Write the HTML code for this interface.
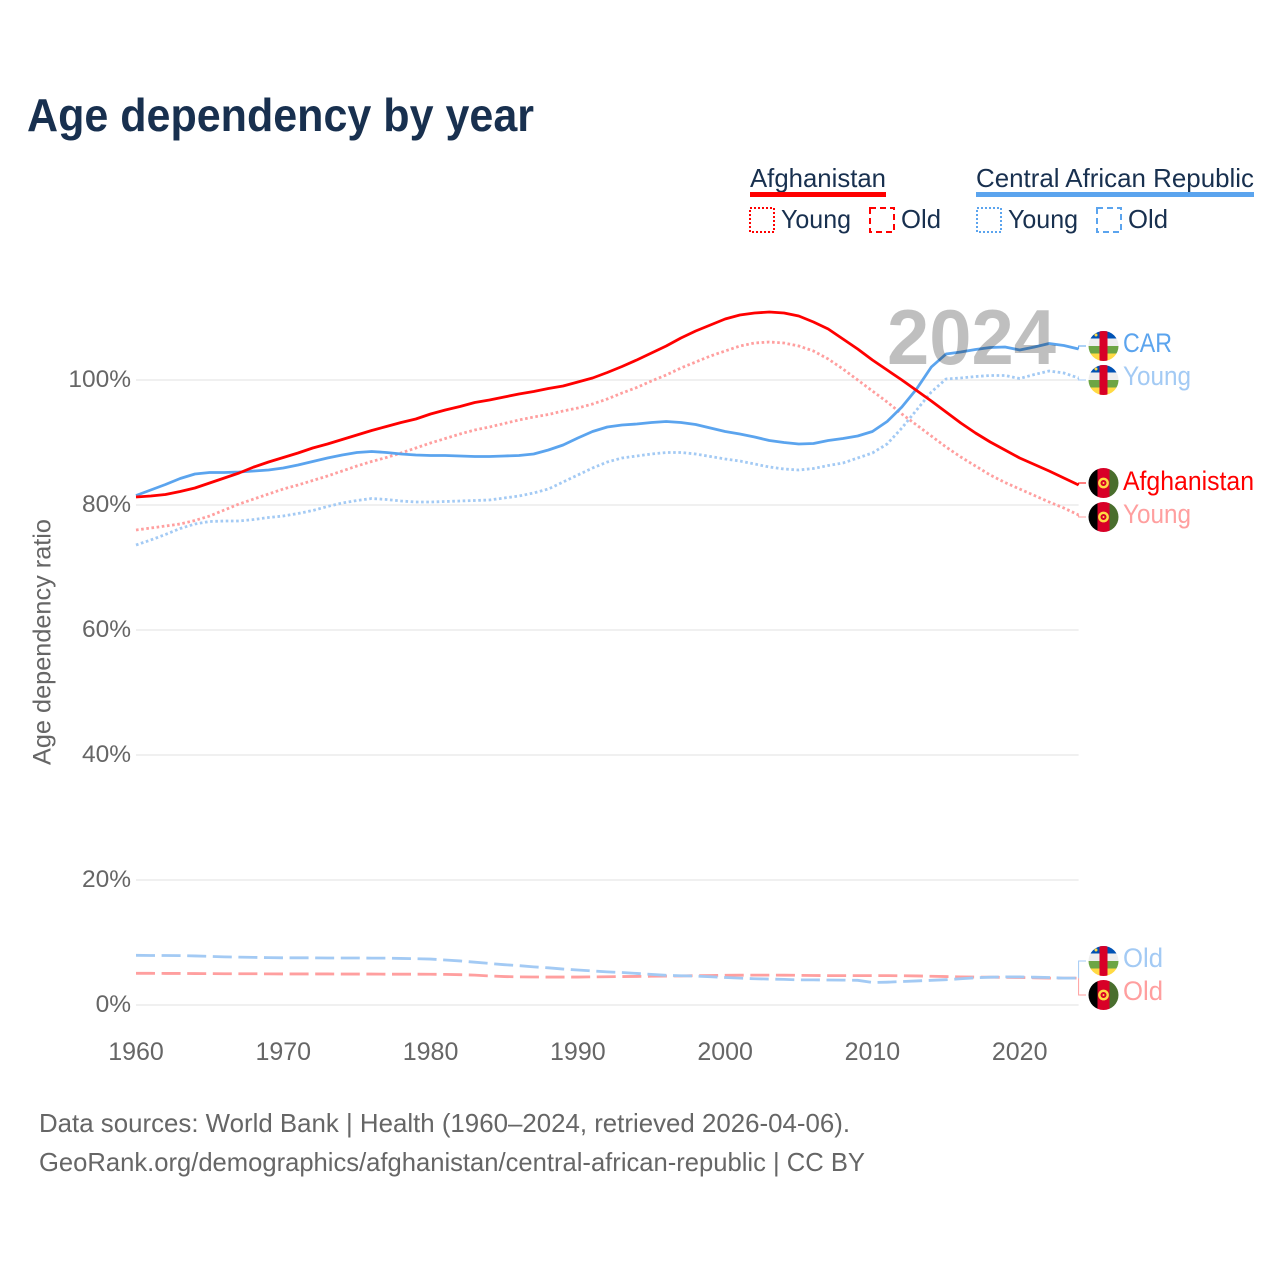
<!DOCTYPE html>
<html lang="en">
<head>
<meta charset="utf-8">
<title>Age dependency by year</title>
<style>
html,body{margin:0;padding:0;background:#fff}
svg{display:block}
text{font-family:"Liberation Sans",sans-serif}
</style>
</head>
<body>
<svg id="chart" xmlns="http://www.w3.org/2000/svg" width="1280" height="1280" viewBox="0 0 1280 1280">
<defs>
<clipPath id="flag-clip"><circle cx="0" cy="0" r="15"/></clipPath>
<g id="flag-car" clip-path="url(#flag-clip)">
<rect x="-15" y="-15" width="30" height="7.5" fill="#0052b4"/>
<rect x="-15" y="-7.5" width="30" height="7.5" fill="#eeeeee"/>
<rect x="-15" y="0" width="30" height="7.5" fill="#6da544"/>
<rect x="-15" y="7.5" width="30" height="7.5" fill="#ffda44"/>
<rect x="-4" y="-15" width="8" height="30" fill="#d80027"/>
<circle cx="-7.5" cy="-11" r="1.5" fill="#ffda44"/>
</g>
<g id="flag-afg" clip-path="url(#flag-clip)">
<rect x="-15" y="-15" width="9" height="30" fill="#000000"/>
<rect x="-6" y="-15" width="12" height="30" fill="#d80027"/>
<rect x="6" y="-15" width="9" height="30" fill="#496e2d"/>
<circle cx="0" cy="0" r="4.2" fill="none" stroke="#ffda44" stroke-width="2.4"/>
<circle cx="0" cy="0" r="1" fill="#ffda44"/>
</g>
</defs>
<rect x="0" y="0" width="1280" height="1280" fill="#ffffff"/>
<text x="27" y="131" font-size="46" font-weight="700" fill="#18304f" textLength="507" lengthAdjust="spacingAndGlyphs">Age dependency by year</text>

<g fill="#18304f" font-size="26">
<text x="750" y="187" textLength="136" lengthAdjust="spacingAndGlyphs">Afghanistan</text>
<rect x="750" y="192" width="136" height="5" fill="#ff0000"/>
<rect x="750" y="208" width="24" height="24" fill="none" stroke="#ff0000" stroke-width="2" stroke-dasharray="2 2"/>
<text x="781" y="228" textLength="70" lengthAdjust="spacingAndGlyphs">Young</text>
<rect x="870" y="208" width="24" height="24" fill="none" stroke="#ff0000" stroke-width="2" stroke-dasharray="6 4"/>
<text x="901" y="228" textLength="40" lengthAdjust="spacingAndGlyphs">Old</text>
<text x="976" y="187" textLength="278" lengthAdjust="spacingAndGlyphs">Central African Republic</text>
<rect x="976" y="192" width="278" height="5" fill="#5ba4ee"/>
<rect x="977" y="208" width="24" height="24" fill="none" stroke="#5ba4ee" stroke-width="2" stroke-dasharray="2 2"/>
<text x="1008" y="228" textLength="70" lengthAdjust="spacingAndGlyphs">Young</text>
<rect x="1097" y="208" width="24" height="24" fill="none" stroke="#5ba4ee" stroke-width="2" stroke-dasharray="6 4"/>
<text x="1128" y="228" textLength="40" lengthAdjust="spacingAndGlyphs">Old</text>
</g>

<g id="grid"></g>
<g id="yticks"></g>
<g id="xticks"></g>
<text transform="translate(50.5 642) rotate(-90)" text-anchor="middle" font-size="25" fill="#666666" textLength="246" lengthAdjust="spacingAndGlyphs">Age dependency ratio</text>
<g id="series"></g>
<text x="887" y="364" font-size="78" font-weight="700" fill="#000000" fill-opacity="0.25" textLength="169" lengthAdjust="spacingAndGlyphs">2024</text>

<g font-size="27">
<use href="#flag-car" x="1103.5" y="346"/>
<text x="1123" y="352" fill="#5ba4ee" textLength="49" lengthAdjust="spacingAndGlyphs">CAR</text>
<use href="#flag-car" x="1103.5" y="380"/>
<text x="1123" y="385" fill="#a3caf4" textLength="68" lengthAdjust="spacingAndGlyphs">Young</text>
<use href="#flag-afg" x="1103.5" y="483"/>
<text x="1123" y="490" fill="#ff0000" textLength="131" lengthAdjust="spacingAndGlyphs">Afghanistan</text>
<use href="#flag-afg" x="1103.5" y="517"/>
<text x="1123" y="523" fill="#ff9f9f" textLength="68" lengthAdjust="spacingAndGlyphs">Young</text>
<use href="#flag-car" x="1103.5" y="961"/>
<text x="1123" y="967" fill="#a3caf4" textLength="40" lengthAdjust="spacingAndGlyphs">Old</text>
<use href="#flag-afg" x="1103.5" y="995"/>
<text x="1123" y="1000" fill="#ff9f9f" textLength="40" lengthAdjust="spacingAndGlyphs">Old</text>
</g>

<g font-size="26" fill="#666666">
<text x="39" y="1132" textLength="811" lengthAdjust="spacingAndGlyphs">Data sources: World Bank | Health (1960–2024, retrieved 2026-04-06).</text>
<text x="39" y="1171" textLength="826" lengthAdjust="spacingAndGlyphs">GeoRank.org/demographics/afghanistan/central-african-republic | CC BY</text>
</g>
</svg>
<script>
var startYear = 1960;
var endYear = 2024;
var xTickYears = [1960, 1970, 1980, 1990, 2000, 2010, 2020];
var yTickValues = [0, 20, 40, 60, 80, 100];
var afghanistanTotal = [81.28,81.44,81.68,82.16,82.72,83.52,84.32,85.12,86.08,86.88,87.6,88.32,89.12,89.76,90.48,91.2,91.92,92.56,93.2,93.76,94.56,95.2,95.76,96.4,96.8,97.28,97.76,98.16,98.64,99.04,99.68,100.32,101.2,102.16,103.2,104.32,105.44,106.72,107.84,108.8,109.76,110.4,110.72,110.88,110.72,110.24,109.28,108.16,106.56,104.96,103.2,101.6,100,98.32,96.64,94.88,93.12,91.52,90.08,88.8,87.52,86.48,85.44,84.32,83.2];
var afghanistanYoung = [76,76.32,76.64,76.96,77.52,78.24,79.2,80.16,80.96,81.76,82.56,83.2,83.92,84.64,85.44,86.24,86.96,87.6,88.32,89.12,89.92,90.64,91.36,92,92.48,93.04,93.6,94.08,94.48,95.04,95.52,96.16,96.96,97.92,98.8,99.84,100.8,101.92,102.88,103.84,104.64,105.44,105.92,106.08,105.92,105.44,104.64,103.36,101.76,100,98.24,96.48,94.56,92.8,91.04,89.28,87.68,86.24,84.8,83.6,82.56,81.52,80.48,79.52,78.4];
var afghanistanOld = [5.07,5.07,5.05,5.05,5.03,5.02,5,5,5,4.98,4.97,4.97,4.97,4.97,4.95,4.95,4.95,4.93,4.93,4.93,4.92,4.9,4.85,4.78,4.65,4.55,4.5,4.48,4.47,4.47,4.47,4.5,4.52,4.55,4.57,4.6,4.62,4.65,4.7,4.72,4.75,4.77,4.78,4.78,4.77,4.75,4.72,4.7,4.7,4.7,4.7,4.7,4.68,4.65,4.6,4.55,4.5,4.47,4.45,4.42,4.4,4.35,4.3,4.3,4.3];
var carTotal = [81.52,82.4,83.28,84.24,84.96,85.2,85.2,85.28,85.44,85.6,85.92,86.4,86.96,87.52,88,88.4,88.56,88.4,88.16,88,87.92,87.92,87.84,87.76,87.76,87.84,87.92,88.16,88.8,89.6,90.72,91.76,92.48,92.8,92.96,93.2,93.36,93.2,92.88,92.32,91.76,91.36,90.88,90.32,90,89.76,89.84,90.32,90.64,91.04,91.76,93.36,95.68,98.56,102.08,104.16,104.48,104.88,105.2,105.28,104.8,105.28,105.84,105.52,104.96];
var carYoung = [73.6,74.4,75.28,76.24,76.96,77.36,77.44,77.44,77.68,78,78.24,78.64,79.12,79.76,80.32,80.72,81.04,80.88,80.64,80.48,80.48,80.56,80.64,80.72,80.8,81.12,81.44,81.92,82.56,83.68,84.8,85.92,86.88,87.52,87.84,88.16,88.4,88.4,88.16,87.76,87.36,87.04,86.56,86.08,85.76,85.6,85.84,86.32,86.72,87.52,88.32,89.76,92.32,95.2,98.08,100.16,100.32,100.56,100.72,100.72,100.24,100.88,101.44,101.12,100.32];
var carOld = [7.95,7.92,7.92,7.9,7.85,7.78,7.7,7.66,7.62,7.58,7.55,7.55,7.55,7.52,7.52,7.52,7.5,7.5,7.45,7.4,7.35,7.2,7.05,6.85,6.65,6.45,6.3,6.1,5.95,5.75,5.6,5.45,5.3,5.2,5.05,4.9,4.75,4.68,4.62,4.52,4.4,4.3,4.2,4.15,4.1,4.02,4.02,4,3.98,3.95,3.6,3.65,3.75,3.85,3.95,4.05,4.2,4.35,4.45,4.5,4.5,4.45,4.4,4.3,4.3];

var NS = 'http://www.w3.org/2000/svg';
var plotLeft = 136, plotRight = 1078.6, zeroY = 1005, hundredY = 380;
function xScale(year) { return plotLeft + (year - startYear) * (plotRight - plotLeft) / (endYear - startYear); }
function yScale(value) { return zeroY + value * (hundredY - zeroY) / 100; }

var grid = document.getElementById('grid');
var yticks = document.getElementById('yticks');
var xticks = document.getElementById('xticks');
var seriesGroup = document.getElementById('series');

yTickValues.forEach(function (v) {
  var line = document.createElementNS(NS, 'line');
  
  
  line.setAttribute('x1', plotLeft);
  line.setAttribute('x2', plotRight);
  line.setAttribute('y1', yScale(v));
  line.setAttribute('y2', yScale(v));
  line.setAttribute('stroke', '#e8e8e8');
  line.setAttribute('stroke-width', '1.3');
  grid.appendChild(line);
  var label = document.createElementNS(NS, 'text');
  
  
  label.setAttribute('x', 131);
  label.setAttribute('y', yScale(v) + 7);
  label.setAttribute('text-anchor', 'end');
  label.setAttribute('font-size', '24.5');
  label.setAttribute('fill', '#666666');
  label.textContent = v + '%';
  yticks.appendChild(label);
});

xTickYears.forEach(function (year) {
  var label = document.createElementNS(NS, 'text');
  
  
  label.setAttribute('x', xScale(year));
  label.setAttribute('y', 1060);
  label.setAttribute('text-anchor', 'middle');
  label.setAttribute('font-size', '25');
  label.setAttribute('fill', '#666666');
  label.textContent = year;
  xticks.appendChild(label);
});

function drawSeries(name, values, color, dash, labelY) {
  var pts = values.map(function (v, i) { return xScale(startYear + i).toFixed(2) + ',' + yScale(v).toFixed(2); });
  var path = document.createElementNS(NS, 'polyline');
  
  
  path.setAttribute('points', pts.join(' '));
  path.setAttribute('fill', 'none');
  path.setAttribute('stroke', color);
  path.setAttribute('stroke-width', '2.8');
  path.setAttribute('stroke-linejoin', 'round');
  if (dash) path.setAttribute('stroke-dasharray', dash);
  seriesGroup.appendChild(path);
  var endX = xScale(endYear);
  var endY = yScale(values[values.length - 1]);
  var link = document.createElementNS(NS, 'polyline');
  
  
  link.setAttribute('points', endX + ',' + endY + ' ' + endX + ',' + labelY + ' 1086,' + labelY);
  link.setAttribute('fill', 'none');
  link.setAttribute('stroke', color);
  link.setAttribute('stroke-width', '1');
  seriesGroup.appendChild(link);
}

drawSeries('afghanistan-old', afghanistanOld, '#ff9f9f', '19 6.6', 995);
drawSeries('car-old', carOld, '#a3caf4', '19 6.6', 961);
drawSeries('afghanistan-young', afghanistanYoung, '#ff9f9f', '2.6 2.6', 517);
drawSeries('car-young', carYoung, '#a3caf4', '2.6 2.6', 380);
drawSeries('car-total', carTotal, '#5ba4ee', '', 346);
drawSeries('afghanistan-total', afghanistanTotal, '#ff0000', '', 483);
</script>
</body>
</html>
